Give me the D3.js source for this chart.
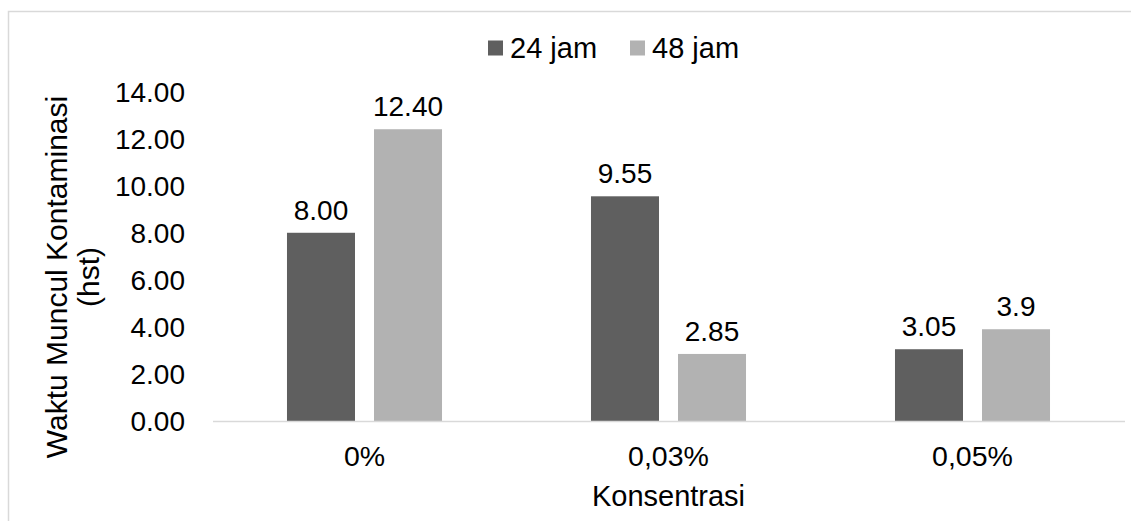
<!DOCTYPE html>
<html>
<head>
<meta charset="utf-8">
<script src="https://cdn.jsdelivr.net/npm/d3@7"></script>
<style>
  html, body { margin: 0; padding: 0; background: #ffffff; }
  svg { display: block; }
  text { font-family: "Liberation Sans", Arial, sans-serif; fill: #000000; }
</style>
</head>
<body>
<svg id="chart" width="1131" height="521"></svg>
<script>
// Kategori konsentrasi dan nilai tiap seri
const categories = ["0%", "0,03%", "0,05%"];
const seriesNames = ["24 jam", "48 jam"];
const values24 = [8.00, 9.55, 3.05];
const values48 = [12.40, 2.85, 3.9];
const labels24 = ["8.00", "9.55", "3.05"];
const labels48 = ["12.40", "2.85", "3.9"];
const yTicks = [0, 2, 4, 6, 8, 10, 12, 14];
const seriesColors = ["#5f5f5f", "#b2b2b2"];

const rows = categories.map((c, i) => ({
  category: c,
  items: [
    { series: seriesNames[0], value: values24[i], label: labels24[i] },
    { series: seriesNames[1], value: values48[i], label: labels48[i] }
  ]
}));

const plot = { left: 212.5, right: 1124.5, top: 91.6, bottom: 421 };
const fontSize = 28;

const svg = d3.select("#chart");

// Bingkai area grafik
svg.append("rect")
  .attr("x", 8.5).attr("y", 11.5)
  .attr("width", 1140).attr("height", 540)
  .attr("fill", "#ffffff")
  .attr("stroke", "#d9d9d9")
  .attr("stroke-width", 1.5);

const x0 = d3.scaleBand()
  .domain(categories)
  .range([plot.left, plot.right])
  .paddingInner(0.49)
  .paddingOuter(0.245);

const x1 = d3.scaleBand()
  .domain(seriesNames)
  .range([0, x0.bandwidth()])
  .paddingInner(0.2184)
  .paddingOuter(0);

const y = d3.scaleLinear()
  .domain([0, 14])
  .range([plot.bottom, plot.top]);

const color = d3.scaleOrdinal().domain(seriesNames).range(seriesColors);

// Sumbu Y: label saja, tanpa garis dan tanda
const yAxis = d3.axisLeft(y)
  .tickValues(yTicks)
  .tickFormat(d3.format(".2f"))
  .tickSize(0)
  .tickPadding(0);

const yg = svg.append("g")
  .attr("transform", `translate(185,0)`)
  .call(yAxis);
yg.select(".domain").remove();
yg.selectAll("text")
  .attr("font-size", fontSize)
  .attr("font-family", "Liberation Sans, Arial, sans-serif")
  .attr("fill", "#000")
  .attr("dy", "0.35em");

// Batang
const groups = svg.append("g")
  .selectAll("g")
  .data(rows)
  .join("g")
  .attr("transform", d => `translate(${x0(d.category)},0)`);

groups.selectAll("rect")
  .data(d => d.items)
  .join("rect")
  .attr("x", d => x1(d.series))
  .attr("y", d => y(d.value))
  .attr("width", x1.bandwidth())
  .attr("height", d => y(0) - y(d.value))
  .attr("fill", d => color(d.series));

// Label nilai di atas batang
groups.selectAll("text")
  .data(d => d.items)
  .join("text")
  .attr("x", d => x1(d.series) + x1.bandwidth() / 2)
  .attr("y", d => y(d.value) - 13)
  .attr("text-anchor", "middle")
  .attr("font-size", fontSize)
  .text(d => d.label);

// Sumbu X: garis dasar dan label kategori
const xAxis = d3.axisBottom(x0).tickSize(0).tickPadding(0);
const xg = svg.append("g")
  .attr("transform", `translate(0,${plot.bottom})`)
  .call(xAxis);
xg.select(".domain")
  .attr("stroke", "#d9d9d9")
  .attr("stroke-width", 1.5);
xg.selectAll("text")
  .attr("font-size", 28.5)
  .attr("font-family", "Liberation Sans, Arial, sans-serif")
  .attr("fill", "#000")
  .attr("dy", null)
  .attr("y", 45);

// Judul sumbu X
svg.append("text")
  .attr("x", (plot.left + plot.right) / 2)
  .attr("y", 506)
  .attr("text-anchor", "middle")
  .attr("font-size", 29)
  .text("Konsentrasi");

// Judul sumbu Y (dua baris)
const yTitle = svg.append("text")
  .attr("transform", "translate(0,277) rotate(-90)")
  .attr("text-anchor", "middle")
  .attr("font-size", 30);
yTitle.append("tspan").attr("x", 0).attr("y", 67).text("Waktu Muncul Kontaminasi");
yTitle.append("tspan").attr("x", 0).attr("y", 99).text("(hst)");

// Legenda
const legendItems = [
  { name: seriesNames[0], x: 488 },
  { name: seriesNames[1], x: 630 }
];
const lg = svg.append("g");
const li = lg.selectAll("g")
  .data(legendItems)
  .join("g")
  .attr("transform", d => `translate(${d.x},0)`);
li.append("rect")
  .attr("x", 0).attr("y", 40.5)
  .attr("width", 15).attr("height", 15)
  .attr("fill", d => color(d.name));
li.append("text")
  .attr("x", 22).attr("y", 57.5)
  .attr("font-size", 29)
  .text(d => d.name);
</script>
</body>
</html>
